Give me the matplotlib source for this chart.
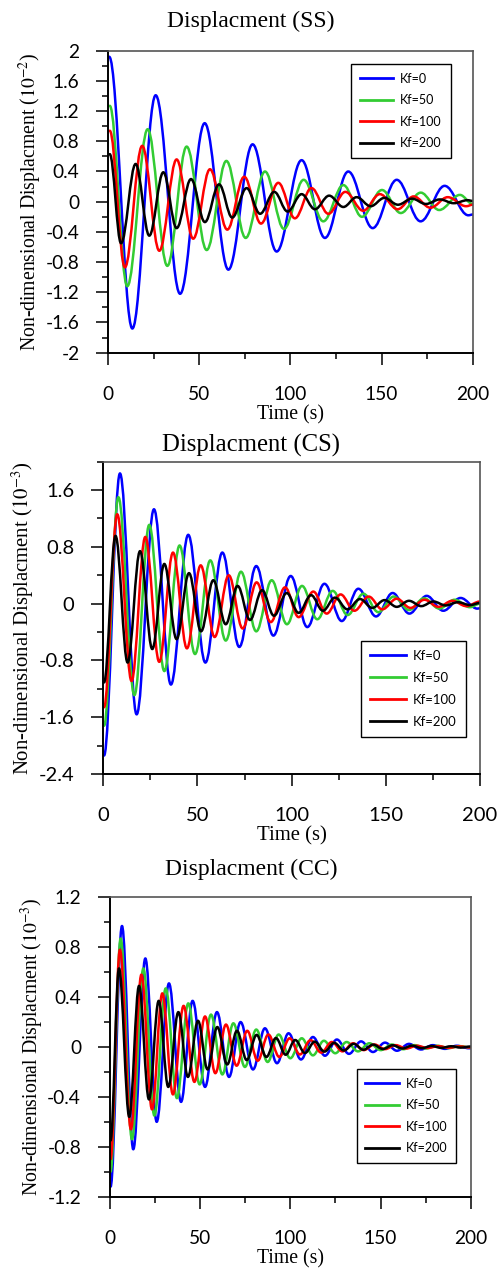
from __future__ import annotations

import matplotlib

matplotlib.use("Agg")
import matplotlib.pyplot as plt
import numpy as np
from matplotlib.lines import Line2D
from matplotlib.patches import PathPatch
from matplotlib.path import Path
from matplotlib.ticker import FuncFormatter, MultipleLocator

# Each series is stored as its turning points (time, value).
LABELS = ["Kf=0", "Kf=50", "Kf=100", "Kf=200"]
COLORS = ["#0000FF", "#33CC33", "#FF0000", "#000000"]

# --- Displacment (SS), units 1e-2 ---
ss_kf0_t = [0.5, 13.2, 26.0, 39.4, 52.9, 65.9, 79.2, 92.4, 106.1, 118.9, 131.7,
            145.1, 158.3, 171.4, 184.6, 197.6, 200]
ss_kf0_y = [1.92, -1.68, 1.41, -1.22, 1.04, -0.90, 0.76, -0.66, 0.55, -0.48, 0.40,
            -0.35, 0.29, -0.26, 0.21, -0.18, -0.17]
ss_kf50_t = [0.8, 10.4, 21.6, 32.4, 43.0, 54.0, 64.8, 75.4, 86.0, 96.4, 107.2,
             118.0, 129.0, 139.2, 150.2, 160.5, 171.5, 181.6, 193.0, 200]
ss_kf50_y = [1.27, -1.12, 0.96, -0.85, 0.73, -0.64, 0.54, -0.48, 0.40, -0.36, 0.29,
             -0.26, 0.22, -0.20, 0.155, -0.15, 0.12, -0.11, 0.09, -0.03]
ss_kf100_t = [0.8, 9.1, 18.6, 28.0, 37.5, 46.6, 55.8, 65.3, 74.6, 83.8, 93.3, 102.4,
              111.5, 120.8, 130.1, 139.9, 149.0, 158.8, 167.6, 176.8, 186.3, 196.4, 200]
ss_kf100_y = [0.94, -0.87, 0.74, -0.65, 0.56, -0.49, 0.43, -0.37, 0.33, -0.29, 0.25, -0.22,
              0.18, -0.16, 0.13, -0.12, 0.10, -0.10, 0.07, -0.08, 0.06, -0.06, -0.04]
ss_kf200_t = [0.8, 7.0, 15.0, 22.5, 30.2, 37.5, 45.4, 53.0, 60.8, 68.0, 75.9, 83.3, 91.1,
              98.4, 106.1, 113.4, 121.2, 129.0, 136.3, 144.0, 151.5, 159.0, 166.7, 174.3,
              182.0, 189.6, 197.2, 200]
ss_kf200_y = [0.63, -0.55, 0.50, -0.45, 0.39, -0.35, 0.30, -0.27, 0.23, -0.21, 0.18, -0.16, 0.13,
              -0.13, 0.10, -0.10, 0.08, -0.07, 0.06, -0.06, 0.05, -0.04, 0.04, -0.03,
              0.03, -0.02, 0.02, 0.01]

# --- Displacment (CS), units 1e-3 ---
cs_kf0_t = [0.4, 8.85, 17.7, 26.9, 35.9, 45.1, 54.2, 63.2, 72.2, 81.2, 90.3, 99.5, 108.3,
            117.4, 126.6, 135.4, 144.8, 153.6, 162.5, 171.7, 180.5, 189.7, 198.6, 200]
cs_kf0_y = [-2.14, 1.835, -1.56, 1.33, -1.14, 0.97, -0.83, 0.72, -0.61, 0.53, -0.45, 0.39, -0.33,
            0.28, -0.245, 0.21, -0.18, 0.15, -0.14, 0.11, -0.10, 0.08, -0.07, -0.065]
cs_kf50_t = [0.4, 8.0, 16.5, 24.4, 32.4, 40.5, 48.7, 56.8, 65.0, 73.1, 81.2, 89.4, 97.5,
             105.5, 113.6, 121.8, 129.7, 138.1, 146.0, 154.2, 162.3, 170.3, 178.4, 186.5,
             194.6, 200]
cs_kf50_y = [-1.72, 1.50, -1.29, 1.11, -0.95, 0.82, -0.71, 0.61, -0.52, 0.45, -0.39, 0.33, -0.29,
             0.25, -0.22, 0.18, -0.16, 0.14, -0.12, 0.10, -0.09, 0.075, -0.07, 0.055,
             -0.05, 0.0]
cs_kf100_t = [0.4, 7.4, 15.0, 22.3, 29.7, 37.0, 44.4, 51.7, 59.1, 66.6, 74.0, 81.4, 88.9, 96.5,
              103.7, 111.5, 118.6, 126.0, 133.3, 140.9, 148.1, 155.8, 163.1, 170.5, 177.9,
              185.3, 192.7, 200]
cs_kf100_y = [-1.46, 1.26, -1.09, 0.94, -0.82, 0.72, -0.63, 0.54, -0.47, 0.40, -0.35, 0.30, -0.26,
              0.23, -0.19, 0.17, -0.14, 0.13, -0.10, 0.10, -0.08, 0.07, -0.06, 0.055, -0.045,
              0.04, -0.035, 0.03]
cs_kf200_t = [0.4, 6.5, 12.9, 19.5, 26.0, 32.4, 38.9, 45.5, 51.9, 58.4, 65.0, 71.3, 77.9, 84.3,
              90.6, 97.4, 103.7, 110.3, 116.6, 123.0, 129.6, 136.3, 142.8, 149.3, 155.8, 162.3,
              168.8, 175.3, 181.8, 188.3, 194.8, 200]
cs_kf200_y = [-1.11, 0.955, -0.83, 0.74, -0.64, 0.56, -0.50, 0.43, -0.39, 0.33, -0.29, 0.25, -0.23,
              0.19, -0.17, 0.15, -0.13, 0.12, -0.10, 0.085, -0.08, 0.065, -0.06, 0.05, -0.045,
              0.04, -0.035, 0.03, -0.025, 0.02, -0.02, 0.01]

# --- Displacment (CC), units 1e-3 ---
cc_kf0_t = [0.3, 6.65, 12.9, 19.6, 25.9, 32.7, 39.4, 45.8, 52.7, 59.3, 66.0, 72.4, 79.3, 85.9,
            92.6, 99.0, 105.9, 112.5, 119.2, 125.8, 132.5, 139.2, 145.8, 152.5, 159.1, 165.8,
            172.4, 179.0, 185.7, 192.3, 199.0, 200]
cc_kf0_y = [-1.12, 0.97, -0.82, 0.71, -0.60, 0.51, -0.44, 0.37, -0.32, 0.28, -0.24, 0.20, -0.18,
            0.15, -0.13, 0.11, -0.10, 0.08, -0.07, 0.06, -0.055, 0.045, -0.04, 0.035, -0.03,
            0.025, -0.02, 0.015, -0.015, 0.01, -0.01, -0.01]
cc_kf50_t = [0.3, 5.9, 12.2, 18.5, 24.6, 30.9, 37.1, 43.4, 49.7, 56.0, 62.3, 68.4, 74.8, 81.1,
             87.4, 93.5, 100.0, 106.3, 112.5, 118.6, 124.9, 131.2, 137.5, 143.8, 150.1, 156.3,
             162.6, 168.9, 175.2, 181.5, 187.8, 194.0, 200]
cc_kf50_y = [-1.0, 0.87, -0.74, 0.63, -0.55, 0.47, -0.41, 0.35, -0.30, 0.26, -0.22, 0.19, -0.16,
             0.14, -0.12, 0.10, -0.09, 0.07, -0.067, 0.05, -0.05, 0.04, -0.035, 0.03, -0.025,
             0.02, -0.018, 0.015, -0.012, 0.01, -0.009, 0.007, -0.005]
cc_kf100_t = [0.3, 5.5, 11.6, 17.4, 23.3, 29.0, 34.9, 40.8, 46.8, 52.7, 58.4, 64.3, 70.2, 76.1,
              81.9, 87.8, 93.9, 99.6, 105.3, 111.2, 117.1, 123.0, 128.9, 134.8, 140.7, 146.6,
              152.5, 158.4, 164.3, 170.2, 176.1, 182.0, 187.9, 193.8, 199.7]
cc_kf100_y = [-0.90, 0.78, -0.66, 0.58, -0.50, 0.43, -0.38, 0.33, -0.28, 0.245, -0.21, 0.18, -0.15,
              0.13, -0.11, 0.10, -0.08, 0.07, -0.06, 0.055, -0.045, 0.04, -0.035, 0.03, -0.025,
              0.02, -0.017, 0.015, -0.012, 0.01, -0.008, 0.007, -0.006, 0.005, -0.004]
cc_kf200_t = [0.3, 5.0, 10.7, 16.1, 21.6, 27.0, 32.3, 37.9, 43.2, 48.8, 54.1, 59.5, 65.0, 70.4,
              75.8, 81.3, 86.7, 92.0, 97.4, 102.7, 108.1, 113.5, 118.9, 124.3, 129.7, 135.1,
              140.5, 145.9, 151.3, 156.7, 162.1, 167.5, 172.9, 178.3, 183.7, 189.1, 194.5, 199.9]
cc_kf200_y = [-0.75, 0.63, -0.56, 0.49, -0.42, 0.37, -0.32, 0.28, -0.24, 0.21, -0.18, 0.16, -0.14,
              0.13, -0.105, 0.097, -0.08, 0.072, -0.062, 0.056, -0.048, 0.043, -0.037, 0.033,
              -0.028, 0.025, -0.022, 0.019, -0.016, 0.014, -0.012, 0.011, -0.009, 0.008,
              -0.007, 0.006, -0.005, 0.004]

W, H = 502, 1271
SERIF = "Liberation Serif"

plt.rcParams["font.family"] = ["Lato", "DejaVu Sans"]
plt.rcParams["mathtext.fontset"] = "stix"


def px(x: float, y: float) -> tuple[float, float]:
    return x / W, 1 - y / H


def smooth_path(t, y, k: float = 0.365) -> Path:
    # cubic segments with flat tangents at every turning point
    verts = [(t[0], y[0])]
    codes = [Path.MOVETO]
    for i in range(len(t) - 1):
        dt = t[i + 1] - t[i]
        verts += [(t[i] + k * dt, y[i]), (t[i + 1] - k * dt, y[i + 1]), (t[i + 1], y[i + 1])]
        codes += [Path.CURVE4] * 3
    return Path(np.array(verts), codes)


def fmt(v, _pos):
    v = round(v, 3)
    if abs(v) < 1e-9:
        return "0"
    return f"{v:g}"


def draw_panel(fig, box, ylabel_x, title_y, series, title, exp, ylim, ymajor, leg_anchor,
               scale=1.0):
    left, top, right, bottom = box
    ax = fig.add_axes([left / W, 1 - bottom / H, (right - left) / W, (bottom - top) / H])
    for (t, y), color in zip(series, COLORS):
        ax.add_patch(PathPatch(smooth_path(t, y), fill=False, edgecolor=color,
                               lw=1.8, capstyle="round", joinstyle="round"))
    ax.set_xlim(0, 200)
    ax.set_ylim(*ylim)
    ax.xaxis.set_major_locator(MultipleLocator(50))
    ax.xaxis.set_minor_locator(MultipleLocator(25))
    ax.yaxis.set_major_locator(MultipleLocator(ymajor))
    ax.yaxis.set_minor_locator(MultipleLocator(ymajor / 2))
    ax.yaxis.set_major_formatter(FuncFormatter(fmt))
    ax.tick_params(which="both", direction="out", width=1.1, color="black",
                   top=False, right=False, labelsize=13.8 * scale)
    ax.tick_params(which="major", length=8.5)
    ax.tick_params(which="minor", length=4.5)
    ax.tick_params(axis="x", pad=15.3)
    ax.tick_params(axis="y", pad=12.3)
    for side in ("left", "bottom"):
        ax.spines[side].set_color("black")
        ax.spines[side].set_linewidth(1.4)
    for side in ("top", "right"):
        ax.spines[side].set_color("#555555")
        ax.spines[side].set_linewidth(1.2)

    handles = [Line2D([], [], color=c, lw=2.0) for c in COLORS]
    leg = ax.legend(handles, LABELS, loc="upper left", bbox_to_anchor=leg_anchor,
                    borderaxespad=0, fontsize=9 * scale, handlelength=2.7,
                    handletextpad=0.55, labelspacing=0.76, borderpad=0.7,
                    fancybox=False, framealpha=1)
    leg.get_frame().set_edgecolor("black")
    leg.get_frame().set_linewidth(1.0)

    cx = (left + right) / 2
    cy = (top + bottom) / 2
    fig.text(*px(251, title_y), title, family=SERIF, fontsize=17 * scale,
             ha="center", va="center")
    fig.text(*px(cx, bottom + 62), "Time (s)", family=SERIF, fontsize=14.2 * scale,
             ha="center", va="center")
    fig.text(*px(ylabel_x, cy), f"Non-dimensional Displacment ($10^{{{exp}}}$)",
             family=SERIF, fontsize=14.2 * scale, rotation=90, ha="center", va="center")
    return ax


def main() -> None:
    fig = plt.figure(figsize=(W / 100, H / 100), dpi=100)

    draw_panel(fig, (108.3, 50.7, 472.7, 352.7), 30, 21,
               [(ss_kf0_t, ss_kf0_y), (ss_kf50_t, ss_kf50_y),
                (ss_kf100_t, ss_kf100_y), (ss_kf200_t, ss_kf200_y)],
               "Displacment (SS)", -2, (-2, 2), 0.4, (0.666, 0.956))
    draw_panel(fig, (103.3, 461.7, 480.0, 774.0), 22.5, 445,
               [(cs_kf0_t, cs_kf0_y), (cs_kf50_t, cs_kf50_y),
                (cs_kf100_t, cs_kf100_y), (cs_kf200_t, cs_kf200_y)],
               "Displacment (CS)", -3, (-2.4, 2.0), 0.8, (0.684, 0.427), scale=1.05)
    draw_panel(fig, (110.0, 897.3, 470.7, 1196.7), 32.5, 869,
               [(cc_kf0_t, cc_kf0_y), (cc_kf50_t, cc_kf50_y),
                (cc_kf100_t, cc_kf100_y), (cc_kf200_t, cc_kf200_y)],
               "Displacment (CC)", -3, (-1.2, 1.2), 0.4, (0.684, 0.4265))

    fig.savefig("out.png", dpi=100)
    plt.close(fig)


if __name__ == "__main__":
    main()
